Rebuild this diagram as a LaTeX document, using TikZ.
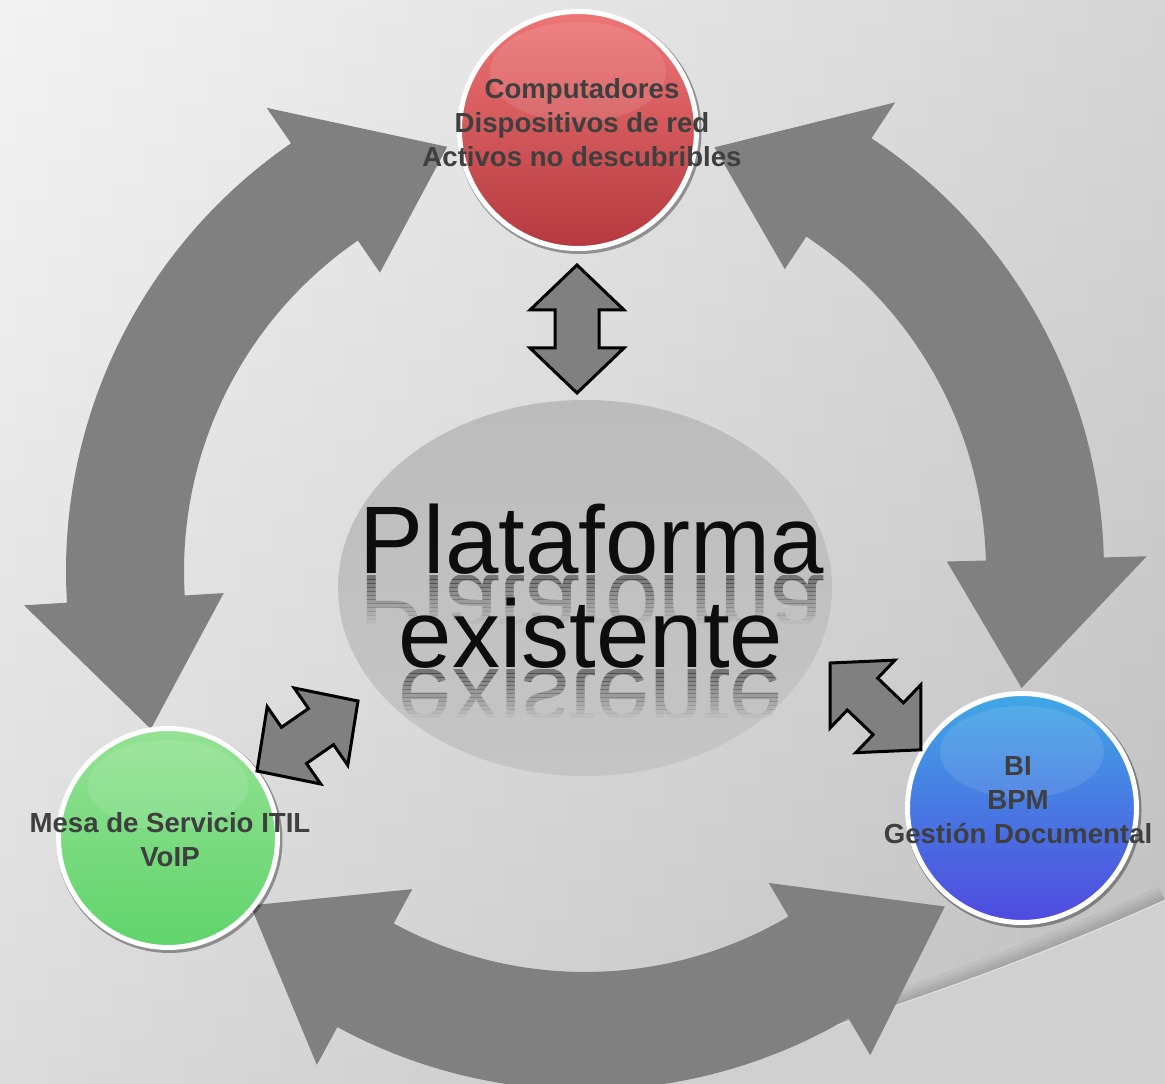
\documentclass[tikz,border=0pt]{standalone}
\usepackage{fontspec}
\setmainfont{Liberation Sans}
\usetikzlibrary{shapes.geometric,calc}
\definecolor{bgL}{HTML}{F0F0F0}
\definecolor{bgR}{HTML}{CCCCCC}
\definecolor{bgBot}{HTML}{8C8C8C}
\definecolor{ringgray}{HTML}{808080}
\definecolor{ellTop}{HTML}{BCBCBC}
\definecolor{ellBot}{HTML}{C5C5C5}
\definecolor{redT}{HTML}{EF7676}
\definecolor{redM}{HTML}{E03A3C}
\definecolor{redB}{HTML}{B5393E}
\definecolor{greenT}{HTML}{94E294}
\definecolor{greenM}{HTML}{6EE671}
\definecolor{greenB}{HTML}{60D46B}
\definecolor{blueT}{HTML}{40A8E6}
\definecolor{blueM}{HTML}{4A80E3}
\definecolor{blueB}{HTML}{5049DF}
\definecolor{lblgray}{HTML}{3F3F3F}
\definecolor{bigtext}{HTML}{0D0D0D}
\definecolor{curlfill}{HTML}{D0D0D0}

% double-headed ring arrow between screen angles #1 < #2, tip radii #3 and #4
\newcommand\ringarr[4]{%
  \fill[ringarrow] (#1:#3) -- (#1+16.5:562) -- (#1+16.5:519)
    arc[start angle=#1+16.5, end angle=#2-16.5, radius=519]
    -- (#2-16.5:562) -- (#2:#4) -- (#2-16.5:362) -- (#2-16.5:401)
    arc[start angle=#2-16.5, end angle=#1+16.5, radius=401]
    -- (#1+16.5:362) -- cycle;}

% outlined double block arrow between two named coordinates
\newcommand\dblblock[2]{%
  \path (#1); \pgfgetlastxy{\ax}{\ay}
  \path (#2); \pgfgetlastxy{\bx}{\by}
  \pgfmathsetmacro\bang{atan2((\by)-(\ay),(\bx)-(\ax))}
  \pgfmathsetmacro\blen{veclen((\bx)-(\ax),(\by)-(\ay))}
  \pgfmathsetmacro\bhb{\blen-33.75}
  \draw[blockarrow, shift={(#1)}, rotate=\bang]
    (0pt,0pt) -- (33.75pt,35.25pt) -- (33.75pt,16.5pt) -- (\bhb pt,16.5pt)
    -- (\bhb pt,35.25pt) -- (\blen pt,0pt) -- (\bhb pt,-35.25pt)
    -- (\bhb pt,-16.5pt) -- (33.75pt,-16.5pt) -- (33.75pt,-35.25pt) -- cycle;}

\begin{document}
\begin{tikzpicture}[x=0.75pt, y=-0.75pt,
  ringarrow/.style={fill=ringgray},
  blockarrow/.style={fill=ringgray, draw=black, line width=2.25pt, line join=miter},
  ballnode/.style={circle, inner sep=0pt, draw=white, line width=3.75pt},
  ballshadow/.style={fill=black, opacity=0.35},
  gloss/.style={fill=white, opacity=0.1},
  lbl/.style={text=lblgray, font=\bfseries\fontsize{20.7}{25.5}\selectfont, align=center, inner sep=0pt},
  bigtxt/.style={text=bigtext, font=\fontsize{72}{72}\selectfont, inner sep=0pt}]

\useasboundingbox (0,0) rectangle (1165,1084);

% background: horizontal gradient plus a light vertical overlay
\shade[left color=bgL, right color=bgR] (0,0) rectangle (1165,1084);
\shade[top color=white, bottom color=bgBot, opacity=0.2] (0,0) rectangle (1165,1084);

% page curl at bottom right
\begin{scope}
  \clip (640,1084) .. controls (800,1040) and (1000,975) .. (1165,900)
        -- (1165,0) -- (0,0) -- (0,1084) -- cycle;
  \foreach \w in {4,10,16,22,30}{
    \draw[black, opacity=0.035, line width=\w*0.75pt]
      (640,1084) .. controls (800,1040) and (1000,975) .. (1165,900);}
\end{scope}
\fill[curlfill] (640,1084) .. controls (800,1040) and (1000,975) .. (1165,900)
  -- (1165,1084) -- cycle;
\draw[white, opacity=0.5, line width=0.75pt]
  (640,1084) .. controls (800,1040) and (1000,975) .. (1165,900);

% ring of double arrows
\begin{scope}[shift={(585,571)}]
  \ringarr{160}{252}{462}{446}
  \ringarr{-73}{15}{443}{452}
  \ringarr{43}{135}{492}{473}
\end{scope}

% central ellipse
\node[ellipse, minimum width=370.5pt, minimum height=282pt, inner sep=0pt,
      top color=ellTop, bottom color=ellBot] (plat) at (585,588) {};

% circles
\fill[ballshadow] (579.5,132) circle[radius=122];
\node[ballnode, minimum size=177.75pt, top color=redT, middle color=redM, bottom color=redB] (red) at (578,130) {};
\fill[gloss] (578,72) ellipse[x radius=88, y radius=50];

\fill[ballshadow] (169.5,840) circle[radius=113];
\node[ballnode, minimum size=164.25pt, top color=greenT, middle color=greenM, bottom color=greenB] (green) at (168,838) {};
\fill[gloss] (168,785) ellipse[x radius=80, y radius=45];

\fill[ballshadow] (1023.5,810) circle[radius=118];
\node[ballnode, minimum size=171.75pt, top color=blueT, middle color=blueM, bottom color=blueB] (blue) at (1022,808) {};
\fill[gloss] (1022,752) ellipse[x radius=82, y radius=46];

% small double block arrows
\coordinate (vA) at (577,265);
\coordinate (vB) at (577,393);
\coordinate (lA) at (257,771);
\coordinate (lB) at (358,701);
\coordinate (rA) at (830,663);
\coordinate (rB) at (921,750);
\dblblock{vA}{vB}
\dblblock{lA}{lB}
\dblblock{rA}{rB}

% circle labels
\node[lbl] (redtxt) at (582,123) {Computadores\\Dispositivos de red\\Activos no descubribles};
\node[lbl] (greentxt) at (170,840) {Mesa de Servicio ITIL\\VoIP};
\node[lbl] (bluetxt) at (1018,800) {BI\\BPM\\Gestión Documental};

% central text with reflections
\foreach \i in {0,...,11}{
  \pgfmathsetmacro\op{0.42*(1-\i/12)}
  \begin{scope}
    \clip (300,575+4*\i) rectangle (880,579+4*\i);
    \node[bigtxt, anchor=base, opacity=\op] at (592,575) {\scalebox{1}[-1]{Plataforma}};
  \end{scope}
  \begin{scope}
    \clip (300,669+4*\i) rectangle (880,673+4*\i);
    \node[bigtxt, anchor=base, opacity=\op] at (591,669) {\scalebox{1}[-1]{existente}};
  \end{scope}
}
\node[bigtxt, anchor=base] (t1) at (592,573) {Plataforma};
\node[bigtxt, anchor=base] (t2) at (591,667) {existente};

\end{tikzpicture}
\end{document}
